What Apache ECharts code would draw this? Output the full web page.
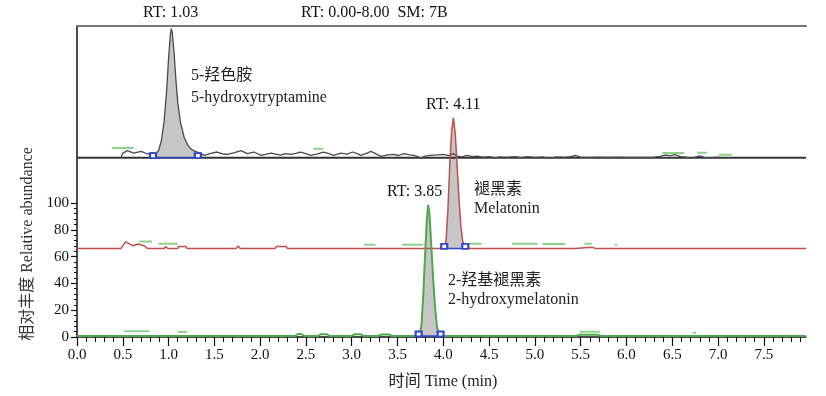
<!DOCTYPE html>
<html><head><meta charset="utf-8">
<script src="https://cdn.jsdelivr.net/npm/echarts@6/dist/echarts.min.js"></script>
<style>html,body{margin:0;padding:0;background:#fff}#c{width:826px;height:396px}</style>
</head><body><div id="c"></div><script>
// ---- data (time in min, relative abundance in stacked-display units) ----
const xMajorTicks = [0,0.5,1,1.5,2,2.5,3,3.5,4,4.5,5,5.5,6,6.5,7,7.5];
const xMinorTicks = [0,0.1,0.2,0.3,0.4,0.5,0.6,0.7,0.8,0.9,1,1.1,1.2,1.3,1.4,1.5,1.6,1.7,1.8,1.9,2,2.1,2.2,2.3,2.4,2.5,2.6,2.7,2.8,2.9,3,3.1,3.2,3.3,3.4,3.5,3.6,3.7,3.8,3.9,4,4.1,4.2,4.3,4.4,4.5,4.6,4.7,4.8,4.9,5,5.1,5.2,5.3,5.4,5.5,5.6,5.7,5.8,5.9,6,6.1,6.2,6.3,6.4,6.5,6.6,6.7,6.8,6.9,7,7.1,7.2,7.3,7.4,7.5,7.6,7.7,7.8,7.9];
const yMajorTicks = [0,20,40,60,80,100];
const yMinorTicks = [0,4,8,12,16,20,24,28,32,36,40,44,48,52,56,60,64,68,72,76,80,84,88,92,96,100];

const serotoninBase = 133.8;
const melatoninBase = 66.1;
const hydroxyBase = 0.75;
const serotoninWindow = [0.83, 1.32];
const melatoninWindow = [4.01, 4.24];
const hydroxyWindow = [3.73, 3.97];

const serotoninBaseline = [[0,133.8],[7.96,133.8]];
const serotoninTrace = [[0.48,133.8],[0.50,137.2],[0.55,139.0],[0.62,137.2],[0.70,138.5],[0.77,136.5],[0.82,137.5],[0.86,137.0],[0.89,139],[0.92,146],[0.95,160],[0.98,185],[1.00,208],[1.02,226],[1.03,230],[1.04,227],[1.06,212],[1.08,192],[1.10,175],[1.13,160],[1.17,149],[1.21,143],[1.25,140],[1.29,138.5],[1.33,137.5],[1.39,135.5],[1.46,137],[1.53,138],[1.60,136.5],[1.64,136.2],[1.72,137.5],[1.79,139],[1.86,136.8],[1.93,138],[2.01,135.5],[2.07,136.5],[2.12,137.2],[2.22,135.7],[2.28,136.8],[2.33,136.2],[2.39,137.0],[2.44,138],[2.50,136.8],[2.55,135.5],[2.62,136.5],[2.69,138],[2.75,136.8],[2.80,135.5],[2.88,137.2],[2.95,136.4],[3.01,138],[3.06,136.8],[3.10,135.5],[3.16,137],[3.21,138.5],[3.27,136.4],[3.32,134.7],[3.39,135.8],[3.46,136.2],[3.51,135.4],[3.57,136.8],[3.63,135.9],[3.68,135.5],[3.72,134.6],[3.75,133.2],[3.80,135.0],[3.86,135.5],[3.93,135.8],[4.00,136.2],[4.06,135.3],[4.11,136.8],[4.15,135.0],[4.20,134.4],[4.26,135.5],[4.32,134.6],[4.37,135.0],[4.43,134.2],[4.50,134.6],[4.56,133.6],[4.62,134.4],[4.70,134.0],[4.78,134.5],[4.85,133.8],[4.92,134.6],[5.00,134.0],[5.08,134.4],[5.16,133.5],[5.24,134.3],[5.32,134.0],[5.39,134.6],[5.44,135.4],[5.50,134.2],[5.60,133.9],[5.70,134.1],[5.80,133.9],[5.90,134.1],[6.00,133.9],[6.10,134.0],[6.20,133.9],[6.30,134.1],[6.36,134.8],[6.42,135.6],[6.48,135.3],[6.53,136.0],[6.59,134.6],[6.65,134.1],[6.70,133.4],[6.75,134.2],[6.80,135.2],[6.85,134.0],[6.92,133.4],[6.98,134.1],[7.05,133.8]];

const melatoninTrace = [[0,66.1],[0.48,66.1],[0.53,71.0],[0.61,68.1],[0.67,69.4],[0.73,68.1],[0.77,66.1],[0.84,66.1],[0.86,67.3],[0.88,66.1],[0.95,66.1],[0.97,67.6],[0.99,66.1],[1.10,66.1],[1.11,67.6],[1.19,67.6],[1.20,66.1],[1.74,66.1],[1.76,68.0],[1.78,66.1],[2.16,66.1],[2.18,67.6],[2.28,67.6],[2.30,66.1],[3.98,66.1],[4.01,66.8],[4.03,72],[4.05,95],[4.07,128],[4.09,153],[4.11,163.5],[4.13,152],[4.15,128],[4.17,104],[4.19,84],[4.21,72],[4.23,67.5],[4.26,66.1],[4.62,66.1],[4.64,65.2],[4.67,66.1],[4.90,66.1],[4.92,65.4],[4.95,66.1],[4.97,65.4],[4.99,66.1],[5.09,66.1],[5.11,65.4],[5.13,66.1],[5.44,66.1],[5.46,67.0],[5.62,67.0],[5.64,66.1],[5.66,66.1],[5.68,65.3],[5.72,66.1],[6.07,66.1],[6.09,65.4],[6.11,66.1],[6.32,66.1],[6.34,65.4],[6.36,66.1],[6.52,66.1],[6.54,65.4],[6.56,66.1],[7.96,66.1]];

const hydroxyTrace = [[0,0.75],[1.2,0.75],[2.38,0.75],[2.41,2.2],[2.45,2.2],[2.48,0.75],[2.63,0.75],[2.66,2.0],[2.73,2.0],[2.76,0.75],[3.00,0.75],[3.03,2.0],[3.10,2.0],[3.13,0.75],[3.29,0.75],[3.32,1.8],[3.41,1.8],[3.44,0.75],[3.70,0.75],[3.74,1.5],[3.76,8],[3.78,30],[3.80,60],[3.82,88],[3.835,98.5],[3.85,91],[3.87,66],[3.89,42],[3.91,22],[3.93,8],[3.95,2.5],[3.98,0.75],[4.5,0.75],[5.0,0.75],[5.45,0.75],[5.48,1.6],[5.69,1.6],[5.72,0.75],[5.9,0.75],[6.4,0.75],[6.9,0.75],[7.4,0.75],[7.96,0.75]];

const noiseMarks = [[0.38,141],[0.62,141],[0.62,'-'],[2.58,140.5],[2.69,140.5],[2.69,'-'],[6.39,137.2],[6.63,137.2],[6.63,'-'],[6.77,137.5],[6.88,137.5],[6.88,'-'],[7.01,136],[7.15,136],[7.15,'-'],
  [0.68,71.3],[0.82,71.3],[0.82,'-'],[0.89,69.5],[1.10,69.5],[1.10,'-'],[3.13,68.8],[3.26,68.8],[3.26,'-'],[3.55,68.8],[3.78,68.8],[3.78,'-'],[4.27,69.6],[4.42,69.6],[4.42,'-'],[4.75,69.6],[5.03,69.6],[5.03,'-'],[5.08,69.3],[5.33,69.3],[5.33,'-'],[5.54,69.6],[5.62,69.6],[5.62,'-'],[5.87,68.8],[5.90,68.8],[5.90,'-'],
  [0.51,4.2],[0.79,4.2],[0.79,'-'],[1.10,3.8],[1.20,3.8],[1.20,'-'],[5.49,4.0],[5.71,4.0],[5.71,'-'],[6.72,3.2],[6.76,3.2]];

const serif = 'Liberation Serif, "Noto Sans CJK SC", serif';

function peakFill(trace, win, base){
  return {type:'line', data: trace.filter(p => p[0] >= win[0]-1e-9 && p[0] <= win[1]+1e-9),
    symbol:'none', lineStyle:{width:0, opacity:0}, areaStyle:{color:'#c6c6c6', opacity:1, origin: base},
    z:1, silent:true, animation:false};
}
function integ(win, base){
  return {type:'line', data:[[win[0],base],[win[1],base]], symbol:'emptyRect', symbolSize:[6,5], symbolOffset:[0,-2],
    showAllSymbol:true, lineStyle:{color:'#3346c8', width:1.5}, itemStyle:{color:'#3346c8', borderWidth:1.2}, z:6, silent:true};
}

const chart = echarts.init(document.getElementById('c'), null, {renderer:'canvas'});
chart.setOption({
  animation:false,
  backgroundColor:'#fff',
  grid:{left:77, right:20, top:26, bottom:59, containLabel:false},
  xAxis:[
    {type:'value', min:0, max:7.96, position:'bottom',
     axisLine:{show:true, lineStyle:{color:'#111', width:1.5}},
     axisTick:{show:true, customValues:xMajorTicks, length:9, lineStyle:{color:'#111', width:1.2}},
     axisLabel:{show:true, customValues:xMajorTicks, formatter:v=>v.toFixed(1), margin:11, fontFamily:serif, fontSize:15, color:'#111'},
     splitLine:{show:false}},
    {type:'value', min:0, max:7.96, position:'bottom',
     axisLine:{show:false}, axisTick:{show:true, customValues:xMinorTicks, length:5, lineStyle:{color:'#111', width:1}},
     axisLabel:{show:false}, splitLine:{show:false}},
    {type:'value', min:0, max:7.96, position:'top',
     axisLine:{show:true, lineStyle:{color:'#777', width:2}}, axisTick:{show:false}, axisLabel:{show:false}, splitLine:{show:false}}
  ],
  yAxis:[
    {type:'value', min:0, max:232, position:'left',
     axisLine:{show:true, lineStyle:{color:'#111', width:1.5}},
     axisTick:{show:true, customValues:yMajorTicks, length:6, lineStyle:{color:'#111', width:1.2}},
     axisLabel:{show:true, customValues:yMajorTicks, margin:8, fontFamily:serif, fontSize:15, color:'#111'},
     splitLine:{show:false}},
    {type:'value', min:0, max:232, position:'left', offset:0,
     axisLine:{show:false}, axisTick:{show:true, customValues:yMinorTicks, length:3, lineStyle:{color:'#111', width:1}},
     axisLabel:{show:false}, splitLine:{show:false}}
  ],
  series:[
    peakFill(serotoninTrace, serotoninWindow, serotoninBase),
    peakFill(melatoninTrace, melatoninWindow, melatoninBase),
    peakFill(hydroxyTrace, hydroxyWindow, hydroxyBase),
    {type:'line', data:noiseMarks, symbol:'none', connectNulls:false, lineStyle:{color:'#8ed28e', width:2}, z:2, silent:true},
    {type:'line', data:serotoninBaseline, symbol:'none', lineStyle:{color:'#333', width:2}, z:3, silent:true},
    {type:'line', data:serotoninTrace, symbol:'none', lineStyle:{color:'#4a4a4a', width:1.3}, z:4, silent:true},
    {type:'line', data:melatoninTrace, symbol:'none', lineStyle:{color:'#c0504d', width:1.5}, z:4, silent:true},
    {type:'line', data:hydroxyTrace, symbol:'none', lineStyle:{color:'#4ea84e', width:2}, z:4, silent:true},
    integ(serotoninWindow, serotoninBase),
    integ(melatoninWindow, melatoninBase),
    integ(hydroxyWindow, hydroxyBase)
  ],
  graphic:[
    {type:'text', left:143, top:5, style:{text:'RT: 1.03', font:'16px '+serif, fill:'#111'}},
    {type:'text', left:301, top:5, style:{text:'RT: 0.00-8.00  SM: 7B', font:'16px '+serif, fill:'#111'}},
    {type:'text', left:191, top:68, style:{text:'5-羟色胺', font:'16px '+serif, fill:'#222'}},
    {type:'text', left:191, top:90, style:{text:'5-hydroxytryptamine', font:'16px '+serif, fill:'#222'}},
    {type:'text', left:426, top:97, style:{text:'RT: 4.11', font:'16px '+serif, fill:'#111'}},
    {type:'text', left:474, top:182, style:{text:'褪黑素', font:'16px '+serif, fill:'#222'}},
    {type:'text', left:474, top:201, style:{text:'Melatonin', font:'16px '+serif, fill:'#222'}},
    {type:'text', left:387, top:184, style:{text:'RT: 3.85', font:'16px '+serif, fill:'#111'}},
    {type:'text', left:448, top:273, style:{text:'2-羟基褪黑素', font:'16px '+serif, fill:'#222'}},
    {type:'text', left:448, top:292, style:{text:'2-hydroxymelatonin', font:'16px '+serif, fill:'#222'}},
    {type:'text', x:28, y:244, rotation:Math.PI/2, style:{text:'相对丰度 Relative abundance', font:'16px '+serif, fill:'#333', textAlign:'center', textVerticalAlign:'middle'}},
    {type:'text', x:443, y:382, style:{text:'时间 Time (min)', font:'16px '+serif, fill:'#222', textAlign:'center', textVerticalAlign:'middle'}}
  ]
});
</script></body></html>
